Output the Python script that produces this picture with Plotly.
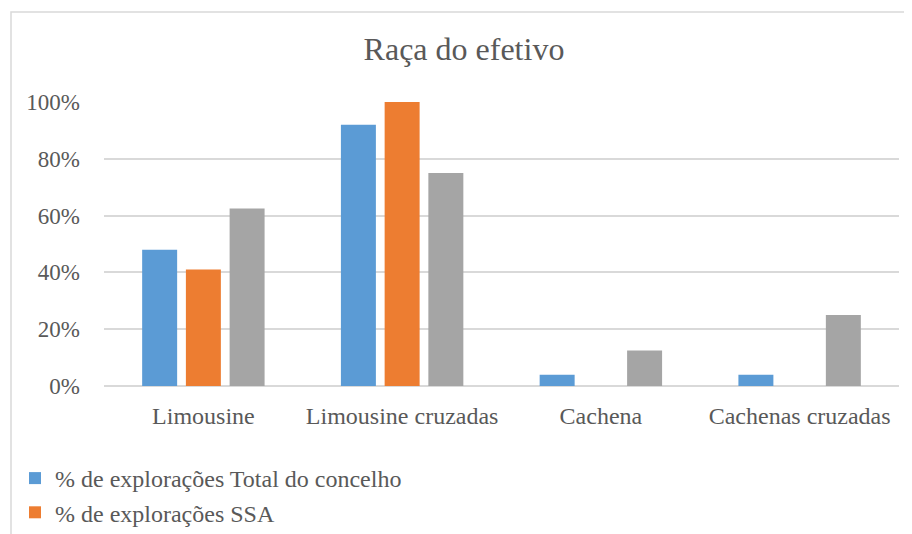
import plotly.graph_objects as go

categories = ["Limousine", "Limousine cruzadas", "Cachena", "Cachenas cruzadas"]
series_names = ["% de explorações Total do concelho", "% de explorações SSA", "% de explorações (outra)"]
total_concelho = [0.48, 0.92, 0.04, 0.04]
ssa = [0.41, 1.00, 0.0, 0.0]
outra = [0.625, 0.75, 0.125, 0.25]
colors = ["#5B9BD5", "#ED7D31", "#A5A5A5"]
y_ticks = [0, 0.2, 0.4, 0.6, 0.8, 1.0]
y_tick_labels = ["0%", "20%", "40%", "60%", "80%", "100%"]

W, H = 912, 534
OFF = 8  # page body margin offset
ml, mt = 104 - OFF, 102 - OFF
mr = W - (899 - OFF)
mb = H - (386 - OFF)
FONT = "Liberation Serif"
TXT = "#595959"

fig = go.Figure()
for i, (name, vals, col, show) in enumerate(zip(series_names, [total_concelho, ssa, outra], colors, [True, True, False])):
    fig.add_trace(go.Bar(x=categories, y=vals, name=name, marker_color=col,
                         marker_line_width=0, showlegend=show, legendgroup=f"g{i}"))

pw = W - ml - mr
ph = H - mt - mb
fig.add_shape(type="rect", xref="paper", yref="paper",
              x0=(11 - OFF - ml) / pw, x1=(W + 5 - ml) / pw,
              y0=(H - mb - (H + 5)) / ph, y1=(H - mb - (12 - OFF)) / ph,
              line=dict(color="#D9D9D9", width=1.5), fillcolor="rgba(0,0,0,0)", layer="below")

fig.update_layout(
    width=W, height=H,
    margin=dict(l=ml, r=mr, t=mt, b=mb, autoexpand=False),
    paper_bgcolor="white", plot_bgcolor="white",
    font=dict(family=FONT, color=TXT, size=23),
    title=dict(text="Raça do efetivo", x=0.5, xref="container", xanchor="center",
               y=1 - (49 - OFF) / H, yref="container", yanchor="middle",
               font=dict(size=32, color=TXT, family=FONT)),
    barmode="group", bargap=0.34, bargroupgap=0.2,
    xaxis=dict(showgrid=False, showline=False, ticks="", tickangle=0, ticklabelstandoff=13,
               tickfont=dict(size=24, family=FONT, color=TXT)),
    yaxis=dict(range=[0, 1.0], tickvals=y_ticks, ticktext=y_tick_labels,
               showgrid=True, gridcolor="#D9D9D9", gridwidth=1.5,
               zeroline=True, zerolinecolor="#D9D9D9", zerolinewidth=1.5,
               showline=False, ticks="", ticklabelstandoff=23,
               tickfont=dict(size=23, family=FONT, color=TXT)),
    legend=dict(orientation="v", x=7 / W, xref="container", xanchor="left",
                y=1 - 448 / H, yref="container", yanchor="top",
                font=dict(size=24, family=FONT, color=TXT), tracegroupgap=0,
                itemwidth=30, bgcolor="rgba(0,0,0,0)"),
)

fig.write_html("out.html")
